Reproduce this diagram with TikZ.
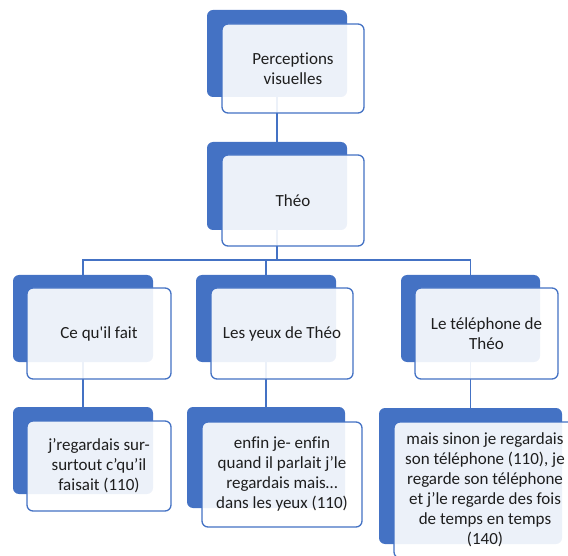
\documentclass[tikz,border=0pt]{standalone}
\usepackage{fontspec}
\setmainfont{Carlito}[Ligatures={TeXOff,NoCommon}]
\usetikzlibrary{positioning}
\definecolor{smblue}{HTML}{4472C4}
\definecolor{smtext}{HTML}{1E1E1E}

\begin{document}
\begin{tikzpicture}[
  x=1pt, y=-1pt,
  back/.style={rectangle, fill=smblue, rounded corners=6pt, inner sep=0pt},
  front/.style={rectangle, draw=smblue, line width=1.3pt, fill=white, fill opacity=0.9, text opacity=1,
    rounded corners=6pt, align=center, inner sep=2pt, text=smtext, font=\fontsize{17}{20}\selectfont},
  link/.style={draw=smblue, line width=1.9pt}
]
\clip (0,0) rectangle (568,556);

% back shapes
\node[back, minimum width=140pt, minimum height=87pt] (pvB) at (277,53.5) {};
\node[back, minimum width=140pt, minimum height=88pt] (theoB) at (277,186) {};
\node[back, minimum width=140pt, minimum height=87pt] (faitB) at (83,318.5) {};
\node[back, minimum width=140pt, minimum height=87pt] (yeuxB) at (266,318.5) {};
\node[back, minimum width=139pt, minimum height=87pt] (telB) at (470.5,318.5) {};
\node[back, minimum width=140pt, minimum height=87pt] (faitQB) at (83,450.5) {};
\node[back, minimum width=158pt, minimum height=101pt] (yeuxQB) at (266,457.5) {};
\node[back, minimum width=183pt, minimum height=136pt] (telQB) at (470.5,476) {};

% connectors
\coordinate (fork) at (277,260);
\draw[link] (pvB.south) -- (theoB.north);
\draw[link] (theoB.south) -- (fork);
\draw[link] (fork) -| (faitB.north);
\draw[link] (fork) -| (yeuxB.north);
\draw[link] (fork) -| (telB.north);
\draw[link] (faitB.south) -- (faitQB.north);
\draw[link] (yeuxB.south) -- (yeuxQB.north);
\draw[link] (telB.south) -- (telQB.north);

% front shapes
\node[front, minimum width=142pt, minimum height=89pt] (pv) at (293,68.5) {Perceptions\\visuelles};
\node[front, minimum width=142pt, minimum height=91pt] (theo) at (293,200.5) {Théo};
\node[front, minimum width=144pt, minimum height=91pt] (fait) at (99,333.5) {Ce qu'il fait};
\node[front, minimum width=142pt, minimum height=91pt] (yeux) at (282,333.5) {Les yeux de Théo};
\node[front, minimum width=143pt, minimum height=91pt] (tel) at (486.5,333.5) {Le téléphone de\\Théo};
\node[front, minimum width=144pt, minimum height=90pt] (faitQ) at (99,466) {j’regardais sur-\\surtout c’qu’il\\faisait (110)};
\node[front, minimum width=160pt, minimum height=105pt] (yeuxQ) at (282,474.5) {enfin je- enfin\\quand il parlait j’le\\regardais mais…\\dans les yeux (110)};
\node[front, minimum width=182pt, minimum height=136pt] (telQ) at (485,490) {mais sinon je regardais\\son téléphone (110), je\\regarde son téléphone\\et j’le regarde des fois\\de temps en temps\\(140)};
\end{tikzpicture}
\end{document}
